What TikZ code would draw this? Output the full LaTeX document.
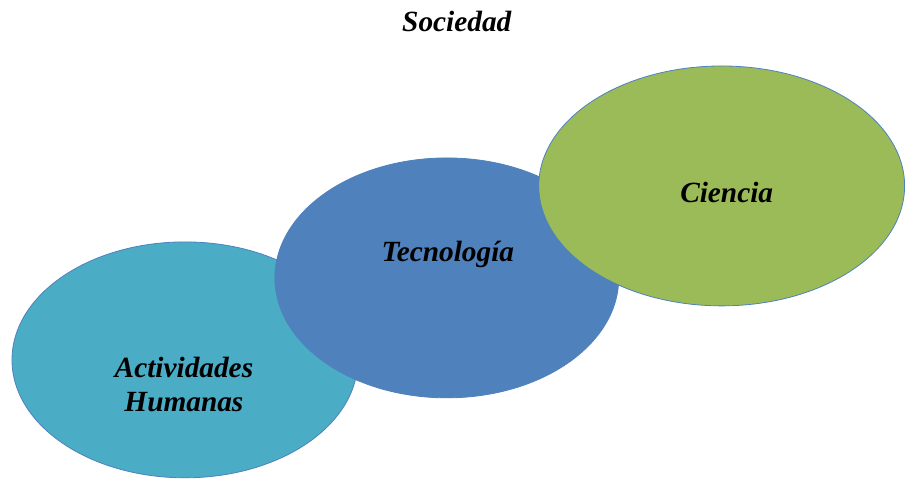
\documentclass[tikz,border=0pt]{standalone}
\usepackage{fontspec}
\setmainfont{Liberation Serif}
\tikzset{every picture/.style={line width=0.6pt}}
\tikzset{lbl/.style={inner sep=0.75pt, align=center, font=\fontsize{22}{25.5}\selectfont\bfseries\itshape}}

\begin{document}
\begin{tikzpicture}[x=0.75pt,y=0.75pt,yscale=-1, xscale=1]
\path (0,0) rectangle (905,480); %set diagram to the page size

%Shape: Ellipse [id:actividades]
\draw  [draw={rgb, 255:red, 79; green, 129; blue, 189 } ,fill={rgb, 255:red, 75; green, 172; blue, 198 } ] (185,360) ellipse (173 and 118);
%Shape: Ellipse [id:tecnologia]
\draw  [draw={rgb, 255:red, 79; green, 129; blue, 189 } ,fill={rgb, 255:red, 79; green, 129; blue, 189 } ] (447,278) ellipse (172 and 120);
%Shape: Ellipse [id:ciencia]
\draw  [draw={rgb, 255:red, 79; green, 129; blue, 189 } ,fill={rgb, 255:red, 155; green, 187; blue, 89 } ] (722,186) ellipse (183 and 120);

% Text Node
\node (sociedad) [lbl, anchor=base] at (457,32) {Sociedad};
% Text Node
\node (humanas) [lbl, anchor=base] at (184,412) {Humanas};
% Text Node
\node (actividades) [lbl, anchor=base] at (184,378) {Actividades};
% Text Node
\node (tecnologia) [lbl, anchor=base] at (448,262) {Tecnología};
% Text Node
\node (cienciatxt) [lbl, anchor=base] at (727,203) {Ciencia};
\end{tikzpicture}
\end{document}
